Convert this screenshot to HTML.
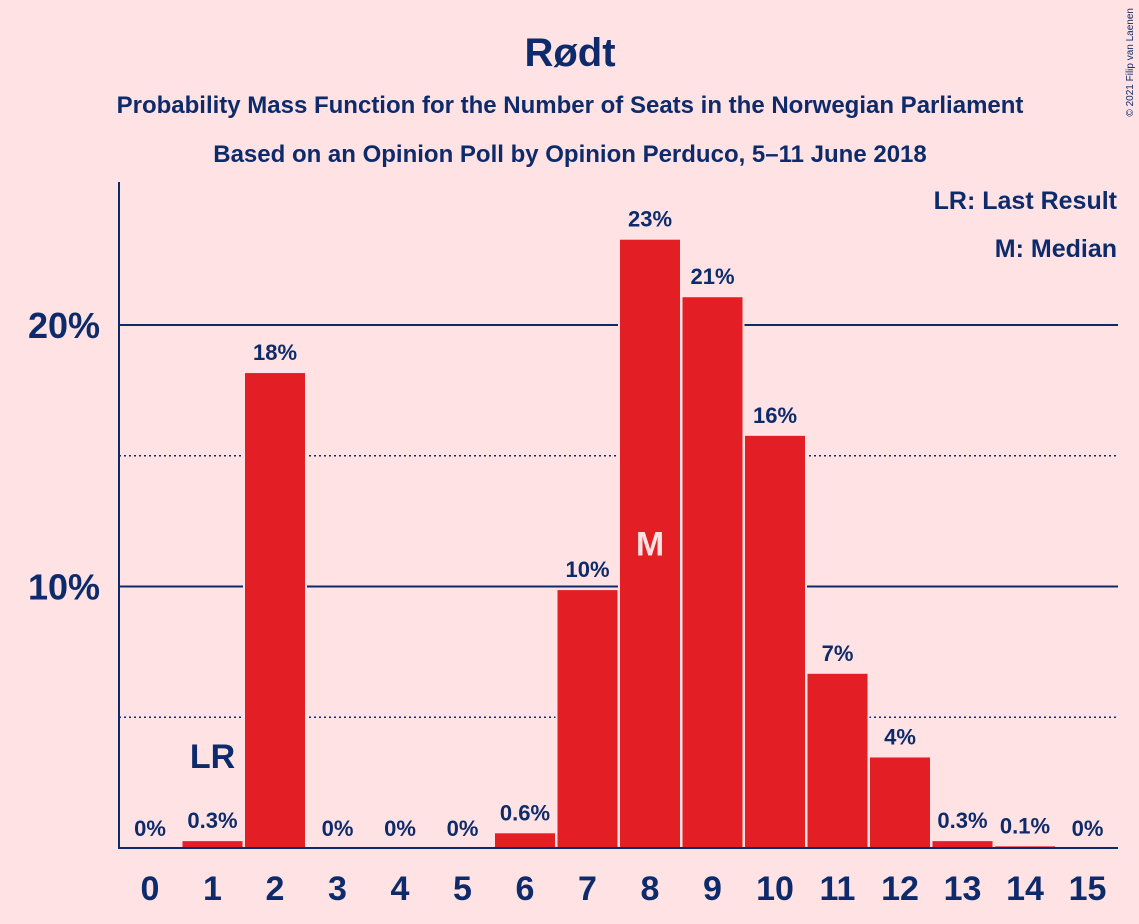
<!DOCTYPE html>
<html><head><meta charset="utf-8"><style>
html,body{margin:0;padding:0;background:#ffe2e3;}
svg{display:block;font-family:"Liberation Sans",sans-serif;}
</style></head><body>
<svg id="chart" width="1139" height="924" xmlns="http://www.w3.org/2000/svg">
<rect width="1139" height="924" fill="#ffe2e3"/>
<text x="570" y="66" text-anchor="middle" font-size="40" font-weight="bold" fill="#0d2b6b">Rødt</text>
<text x="570" y="113" text-anchor="middle" font-size="24" font-weight="bold" fill="#0d2b6b">Probability Mass Function for the Number of Seats in the Norwegian Parliament</text>
<text x="570" y="162" text-anchor="middle" font-size="24" font-weight="bold" fill="#0d2b6b">Based on an Opinion Poll by Opinion Perduco, 5–11 June 2018</text>
<text x="1133" y="8" font-size="10" fill="#0d2b6b" transform="rotate(-90 1133 8)" text-anchor="end">© 2021 Filip van Laenen</text>
<text x="1117" y="209" text-anchor="end" font-size="25" font-weight="bold" fill="#0d2b6b">LR: Last Result</text>
<text x="1117" y="257" text-anchor="end" font-size="25" font-weight="bold" fill="#0d2b6b">M: Median</text>
<g id="grid"></g><g id="bars"></g><g id="labels"></g>
<line x1="119" y1="182" x2="119" y2="849" stroke="#0d2b6b" stroke-width="2"/>
<line x1="118" y1="848" x2="1118" y2="848" stroke="#0d2b6b" stroke-width="2"/>
</svg>
<script>
const categories=[0,1,2,3,4,5,6,7,8,9,10,11,12,13,14,15];
const values=[0,0.3,18.2,0,0,0,0.6,9.9,23.3,21.1,15.8,6.7,3.5,0.3,0.1,0];
const valueLabels=["0%","0.3%","18%","0%","0%","0%","0.6%","10%","23%","21%","16%","7%","4%","0.3%","0.1%","0%"];
const yTicks=[10,20];
const yTickLabels=["10%","20%"];
const dottedTicks=[5,15];
const lastResult=1;
const median=8;
const NS="http://www.w3.org/2000/svg";
const y=v=>848-v*26.15;
const x=c=>150+c*62.5;
function mk(t,a,p){const e=document.createElementNS(NS,t);for(const k in a)e.setAttribute(k,a[k]);p.appendChild(e);return e;}
const grid=document.getElementById('grid'),bars=document.getElementById('bars'),labels=document.getElementById('labels');
dottedTicks.forEach(t=>{const l=mk('line',{x1:119,x2:1118,y1:y(t),y2:y(t),stroke:'#0d2b6b','stroke-width':1.5,'stroke-dasharray':'2,3'},grid);

});
yTicks.forEach((t,i)=>{const l=mk('line',{x1:119,x2:1118,y1:y(t),y2:y(t),stroke:'#0d2b6b','stroke-width':2},grid);


const tx=mk('text',{x:100,y:y(t)+13,'text-anchor':'end','font-size':36,'font-weight':'bold',fill:'#0d2b6b'},grid);tx.textContent=yTickLabels[i];

});
categories.forEach((c,i)=>{
 const v=values[i];
 if(v>0){const r=mk('rect',{x:x(c)-31,y:y(v),width:62,height:848-y(v),fill:'#e31e24',stroke:'#ffe2e3','stroke-width':2},bars);
 
 }
 const ly=y(v)-12;
 const w=valueLabels[i].length*12+6;
 const bg=mk('rect',{x:x(c)-w/2,y:ly-22,width:w,height:28,fill:'#ffe2e3'},labels);
 
 
 const t=mk('text',{x:x(c),y:ly,'text-anchor':'middle','font-size':22,'font-weight':'bold',fill:'#0d2b6b'},labels);t.textContent=valueLabels[i];
 
 
 const xt=mk('text',{x:x(c),y:900,'text-anchor':'middle','font-size':34,'font-weight':'bold',fill:'#0d2b6b'},labels);xt.textContent=c;
 
 
 if(c===lastResult){const lr=mk('text',{x:x(c),y:ly-60,'text-anchor':'middle','font-size':34,'font-weight':'bold',fill:'#0d2b6b'},labels);lr.textContent='LR';
 
 }
 if(c===median){const m=mk('text',{x:x(c),y:y(v/2)+12,'text-anchor':'middle','font-size':34,'font-weight':'bold',fill:'#ffe2e3'},labels);m.textContent='M';
 
 }
});
</script>
</body></html>
